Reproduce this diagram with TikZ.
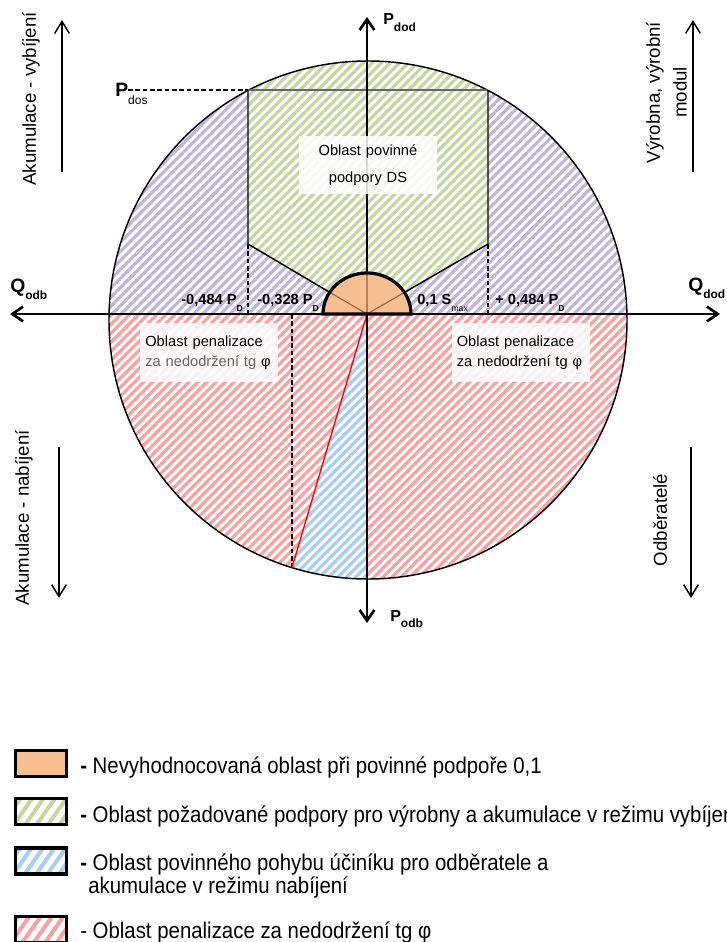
\documentclass[tikz,border=0pt]{standalone}
\usepackage{fontspec}
\setmainfont{Liberation Sans}
\newfontfamily\legendfont{Liberation Sans}[FakeStretch=0.9]
\usetikzlibrary{arrows.meta,patterns.meta,calc}

\definecolor{hatchgreen}{RGB}{195,215,160}
\definecolor{hatchviolet}{RGB}{190,180,220}
\definecolor{hatchred}{RGB}{250,160,160}
\definecolor{hatchblue}{RGB}{165,205,245}
\definecolor{zoneorange}{RGB}{246,190,145}
\definecolor{zonebrown}{RGB}{150,95,50}

\tikzset{
  hatch/.style={preaction={fill=white},pattern={Lines[angle=45,distance=4.8pt,line width=2.4pt]},pattern color=#1},
  keyhatch/.style={preaction={fill=white},pattern={Lines[angle=55,distance=7pt,line width=3pt]},pattern color=#1},
  mainaxis/.style={line width=2pt,{Straight Barb[length=8pt,width=11pt]}-{Straight Barb[length=8pt,width=11pt]}},
  sidearrow/.style={line width=1.1pt,-{Straight Barb[length=9pt,width=11pt]}},
  rim/.style={line width=1.1pt},
  guide/.style={line width=0.8pt,dash pattern=on 3.5pt off 2pt},
  infobox/.style={fill=white,fill opacity=0.85,text opacity=1,inner xsep=4pt,inner ysep=0pt,
    text width=95.5pt,minimum height=44pt,font=\fontsize{11}{15}\selectfont},
  limitlabel/.style={anchor=base west,inner sep=0pt,font=\bfseries\fontsize{11}{11}\selectfont},
  axislabel/.style={anchor=base west,inner sep=0pt,font=\bfseries\fontsize{14.5}{14.5}\selectfont},
  sidetext/.style={rotate=90,align=center,inner sep=0pt,font=\fontsize{14}{20}\selectfont},
  keybox/.style={draw,line width=2.4pt,minimum width=38pt,minimum height=19.5pt,inner sep=0pt},
  keytext/.style={anchor=base west,inner sep=0pt,font=\legendfont\fontsize{17}{23}\selectfont},
}
\newcommand{\low}[2][5pt]{\raisebox{-#1}{#2}}

\begin{document}
\begin{tikzpicture}[x=0.75pt,y=0.75pt]
\useasboundingbox (-367,-628) rectangle (359,314);

% points of the diagram
\coordinate (O) at (0,0);
\coordinate (C) at (1,-6);
\coordinate (dosL) at (-119,224);
\coordinate (dosR) at (121,224);
\coordinate (kneeL) at (-119,70);
\coordinate (kneeR) at (121,70);
\coordinate (footL) at (-119,0);
\coordinate (footR) at (121,0);
\coordinate (rimL) at (-37.5,21.8);
\coordinate (rimR) at (37.5,21.6);
\coordinate (capW) at (-44,0);
\coordinate (capE) at (44,0);
\coordinate (capT) at (0,41);
\coordinate (tgTop) at (-75,0);
\coordinate (tgEnd) at (-75,-253.6);
\coordinate (dosTip) at (-239,224);

% zones, cut to the circle
\begin{scope}
  \clip (C) circle (259);
  \fill[hatch=hatchviolet] (-262,0) rectangle (262,270);
  \fill[hatch=hatchred] (-262,0) rectangle (262,-272);
  \fill[hatch=hatchblue] (O) -- ($(O)!1.2!(tgEnd)$) -- (0,-310) -- cycle;
  \fill[hatch=hatchgreen] (kneeL) -- (-119,270) -- (121,270) -- (kneeR) -- (O) -- cycle;
\end{scope}

% borders
\draw[rim] (C) circle (259);
\draw[line width=1pt,black!60] (dosL) -- (dosR);
\draw[rim] (dosL) -- (kneeL) -- (rimL);
\draw[rim] (dosR) -- (kneeR) -- (rimR);
\draw[guide] (kneeL) -- (footL);
\draw[guide] (kneeR) -- (footR);
\draw[guide] (tgTop) -- (tgEnd);
\draw[guide] (dosTip) -- (dosL);
\draw[red,line width=1pt] (O) -- (tgEnd);

% axes
\coordinate (west) at (-357,0);
\coordinate (east) at (353,0);
\coordinate (north) at (0,297);
\coordinate (south) at (0,-309);
\draw[mainaxis] (west) -- (east);
\draw[mainaxis] (south) -- (north);

% unevaluated half disc
\fill[zoneorange] (capW) arc[start angle=180,end angle=0,x radius=44,y radius=41] -- cycle;
\draw[zonebrown,line width=0.8pt] (rimL) -- (O) -- (rimR) (O) -- (capT);
\draw[line width=2.4pt] (capW) arc[start angle=180,end angle=0,x radius=44,y radius=41] -- cycle;

% texts in the zones
\node[infobox,align=center,minimum height=43.5pt,font=\fontsize{11}{20}\selectfont] (ds) at (1,149)
  {Oblast povinné\\podpory DS};
\node[infobox,align=left] (penL) at (-158,-38.5)
  {Oblast penalizace\\{\color{black!60}za nedodržení tg} φ};
\node[infobox,align=left] (penR) at (153.5,-38.5)
  {Oblast penalizace\\za nedodržení tg φ};

\node[limitlabel] (bA) at (-186,9) {-0,484 P\low{\fontsize{6.5}{6.5}\selectfont D}};
\node[limitlabel] (bB) at (-110,9) {-0,328 P\low{\fontsize{6.5}{6.5}\selectfont D}};
\node[limitlabel] (bC) at (50,9) {0,1 S\low{\fontsize{6.5}{6.5}\selectfont\mdseries max}};
\node[limitlabel] (bD) at (128,9) {+ 0,484 P\low{\fontsize{6.5}{6.5}\selectfont D}};

% axis names
\node[axislabel] (qodb) at (-357,21) {Q\low{\fontsize{9}{9}\selectfont odb}};
\node[axislabel] (qdod) at (321,22) {Q\low{\fontsize{9}{9}\selectfont dod}};
\node[axislabel] (pdos) at (-252,217) {P\low[6pt]{\fontsize{9}{9}\selectfont\mdseries dos}};
\node[axislabel,font=\bfseries\fontsize{12}{12}\selectfont] (pdod) at (16,289) {P\low{\fontsize{9}{9}\selectfont dod}};
\node[axislabel,font=\bfseries\fontsize{12}{12}\selectfont] (podb) at (23,-307) {P\low{\fontsize{9}{9}\selectfont odb}};

% operating modes at the sides
\node[sidetext] (vyb) at (-336,215) {Akumulace - vybíjení};
\node[sidetext] (vyr) at (299.5,221.5) {Výrobna, výrobní\\modul};
\node[sidetext] (nab) at (-343,-204) {Akumulace - nabíjení};
\node[sidetext] (odb) at (293,-206) {Odběratelé};
\coordinate (vybA) at (-305,142);
\coordinate (vybB) at (-305,294);
\coordinate (vyrA) at (326,142);
\coordinate (vyrB) at (326,294);
\coordinate (nabA) at (-308,-133);
\coordinate (nabB) at (-308,-284);
\coordinate (odbA) at (324,-133);
\coordinate (odbB) at (324,-284);
\draw[sidearrow] (vybA) -- (vybB);
\draw[sidearrow] (vyrA) -- (vyrB);
\draw[sidearrow] (nabA) -- (nabB);
\draw[sidearrow] (odbA) -- (odbB);

% legend
\node[keybox,fill=zoneorange] (key1) at (-326,-449.5) {};
\node[keybox,keyhatch=hatchgreen] (key2) at (-326,-497.5) {};
\node[keybox,keyhatch=hatchblue] (key3) at (-326,-547) {};
\node[keybox,keyhatch=hatchred] (key4) at (-326,-615.5) {};
\node[keytext] (txt1) at (-287,-459) {\textbf{-} Nevyhodnocovaná oblast při povinné podpoře 0,1};
\node[keytext] (txt2) at (-287,-508) {\textbf{-} Oblast požadované podpory pro výrobny a akumulace v režimu vybíjení};
\node[keytext] (txt3) at (-287,-556) {\textbf{-} Oblast povinného pohybu účiníku pro odběratele a};
\node[keytext] (txt3b) at (-279,-579) {akumulace v režimu nabíjení};
\node[keytext] (txt4) at (-287,-624) {- Oblast penalizace za nedodržení tg φ};
\end{tikzpicture}
\end{document}
